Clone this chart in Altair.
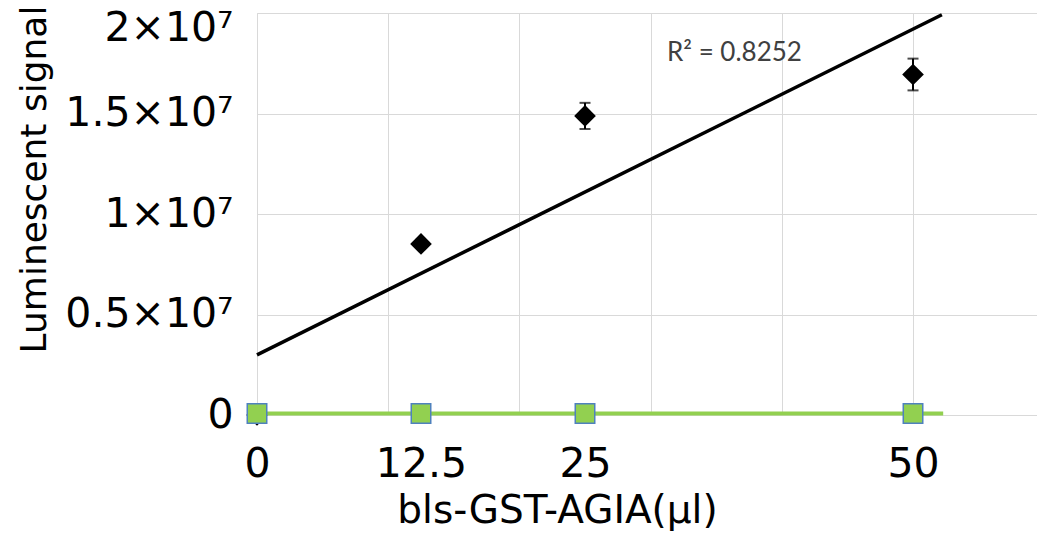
import altair as alt
import pandas as pd

# ---- data ----
x_vals = [0, 12.5, 25, 50]
black_y = [0.0, 8.51e6, 14.88e6, 16.94e6]
black_err = [0.0, 0.2e6, 0.65e6, 0.79e6]
green_y = [0.08e6, 0.08e6, 0.08e6, 0.08e6]

x_grid_vals = [0, 10, 20, 30, 40, 50, 60]
x_label_vals = [0, 12.5, 25, 50]
x_label_text = ["0", "12.5", "25", "50"]
y_tick_vals = [0, 5e6, 1e7, 1.5e7, 2e7]
y_tick_text = ["0", "0.5×10⁷", "1×10⁷", "1.5×10⁷", "2×10⁷"]

r2_label = ["R² = 0.8252"]
r2_x = [31.25]
r2_y = [17.6e6]

x_title = "bls-GST-AGIA(µl)"
y_title = "Luminescent signal"

# ---- tables ----
black = pd.DataFrame({"x": x_vals, "y": black_y, "err": black_err})
black["lo"] = black["y"] - black["err"]
black["hi"] = black["y"] + black["err"]
bars = black[black["err"] > 0]
caps = pd.concat([
    pd.DataFrame({"x": bars["x"], "y": bars["lo"]}),
    pd.DataFrame({"x": bars["x"], "y": bars["hi"]}),
])
green = pd.DataFrame({"x": x_vals, "y": green_y})
r2 = pd.DataFrame({"x": r2_x, "y": r2_y, "t": r2_label})

FONT = "DejaVu Sans"
GRID = "#D9D9D9"

all_x_vals = sorted(set(x_grid_vals + x_label_vals))
x_lab_expr = "[{}][indexof([{}], datum.value)] || ''".format(
    ",".join("'" + t + "'" for t in x_label_text),
    ",".join(str(v) for v in x_label_vals),
)
y_lab_expr = "[{}][indexof([{}], datum.value)] || ''".format(
    ",".join("'" + t + "'" for t in y_tick_text),
    ",".join(str(int(v)) for v in y_tick_vals),
)

xscale = alt.Scale(domain=[0, 59.45], nice=False, zero=False)
yscale = alt.Scale(domain=[0, 2e7], nice=False)

xaxis = alt.Axis(
    values=all_x_vals,
    labelExpr=x_lab_expr,
    labelFlush=False,
    labelOverlap=False,
    labelFont=FONT,
    labelFontSize=41,
    labelColor="#000000",
    labelBaseline="alphabetic",
    labelPadding=61,
    domain=False,
    ticks=False,
    grid=True,
    gridColor=GRID,
    gridWidth=1,
    gridOpacity={"condition": {"test": "datum.value % 10 === 0", "value": 1}, "value": 0},
    title=x_title,
    titleFont=FONT,
    titleFontSize=39,
    titleFontWeight="normal",
    titleColor="#000000",
    titleX=300,
    titleY=107,
    titleAlign="center",
    titleBaseline="alphabetic",
)
yaxis = alt.Axis(
    values=y_tick_vals,
    labelExpr=y_lab_expr,
    labelFlush=False,
    labelOverlap=False,
    labelFont=FONT,
    labelFontSize=41,
    labelColor="#000000",
    labelAlign="right",
    labelPadding=24,
    labelBaseline={"condition": {"test": "datum.value >= 20000000", "value": "top"}, "value": "middle"},
    labelOffset={"condition": {"test": "datum.value >= 20000000", "value": -5}, "value": 0},
    domain=False,
    ticks=False,
    grid=True,
    gridColor=GRID,
    gridWidth=1,
    title=y_title,
    titleFont=FONT,
    titleFontSize=36,
    titleFontWeight="normal",
    titleColor="#000000",
    titleX=-212,
    titleY=166,
    titleAlign="center",
    titleBaseline="alphabetic",
)

X = alt.X("x:Q", scale=xscale, axis=xaxis)
Y = alt.Y("y:Q", scale=yscale, axis=yaxis)

black_trend = alt.Chart(black).transform_regression(
    "x", "y", extent=[0, 52.2]
).mark_line(color="#000000", strokeWidth=3.5).encode(x=X, y=Y)

err_rules = alt.Chart(bars).mark_rule(color="#000000", strokeWidth=2).encode(
    x=X, y=alt.Y("lo:Q", scale=yscale, axis=yaxis), y2="hi:Q"
)
err_caps = alt.Chart(caps).mark_tick(
    color="#000000", orient="horizontal", size=11, thickness=2
).encode(x=X, y=Y)

black_pts = alt.Chart(black).mark_point(
    shape="diamond", filled=True, color="#000000", size=470, opacity=1
).encode(x=X, y=Y)

green_trend = alt.Chart(green).transform_regression(
    "x", "y", extent=[0, 52.3]
).mark_line(color="#92D050", strokeWidth=4).encode(x=X, y=Y)

green_pts = alt.Chart(green).mark_point(
    shape="square", filled=True, fill="#92D050", stroke="#4F81BD",
    strokeWidth=1.5, size=380, opacity=1
).encode(x=X, y=Y)

r2_text = alt.Chart(r2).mark_text(
    align="left", baseline="alphabetic", font="Lato", fontSize=26, color="#404040"
).encode(x=X, y=Y, text="t:N")

chart = alt.layer(
    black_trend, err_rules, err_caps, black_pts, green_trend, green_pts, r2_text
).properties(
    width=780,
    height=402,
    autosize=alt.AutoSizeParams(type="none"),
    padding={"left": 257, "top": 13, "right": 0, "bottom": 125},
).configure_view(strokeWidth=0).configure(background="#ffffff")

chart.save("out.html", embed_options={"renderer": "svg", "actions": False})
